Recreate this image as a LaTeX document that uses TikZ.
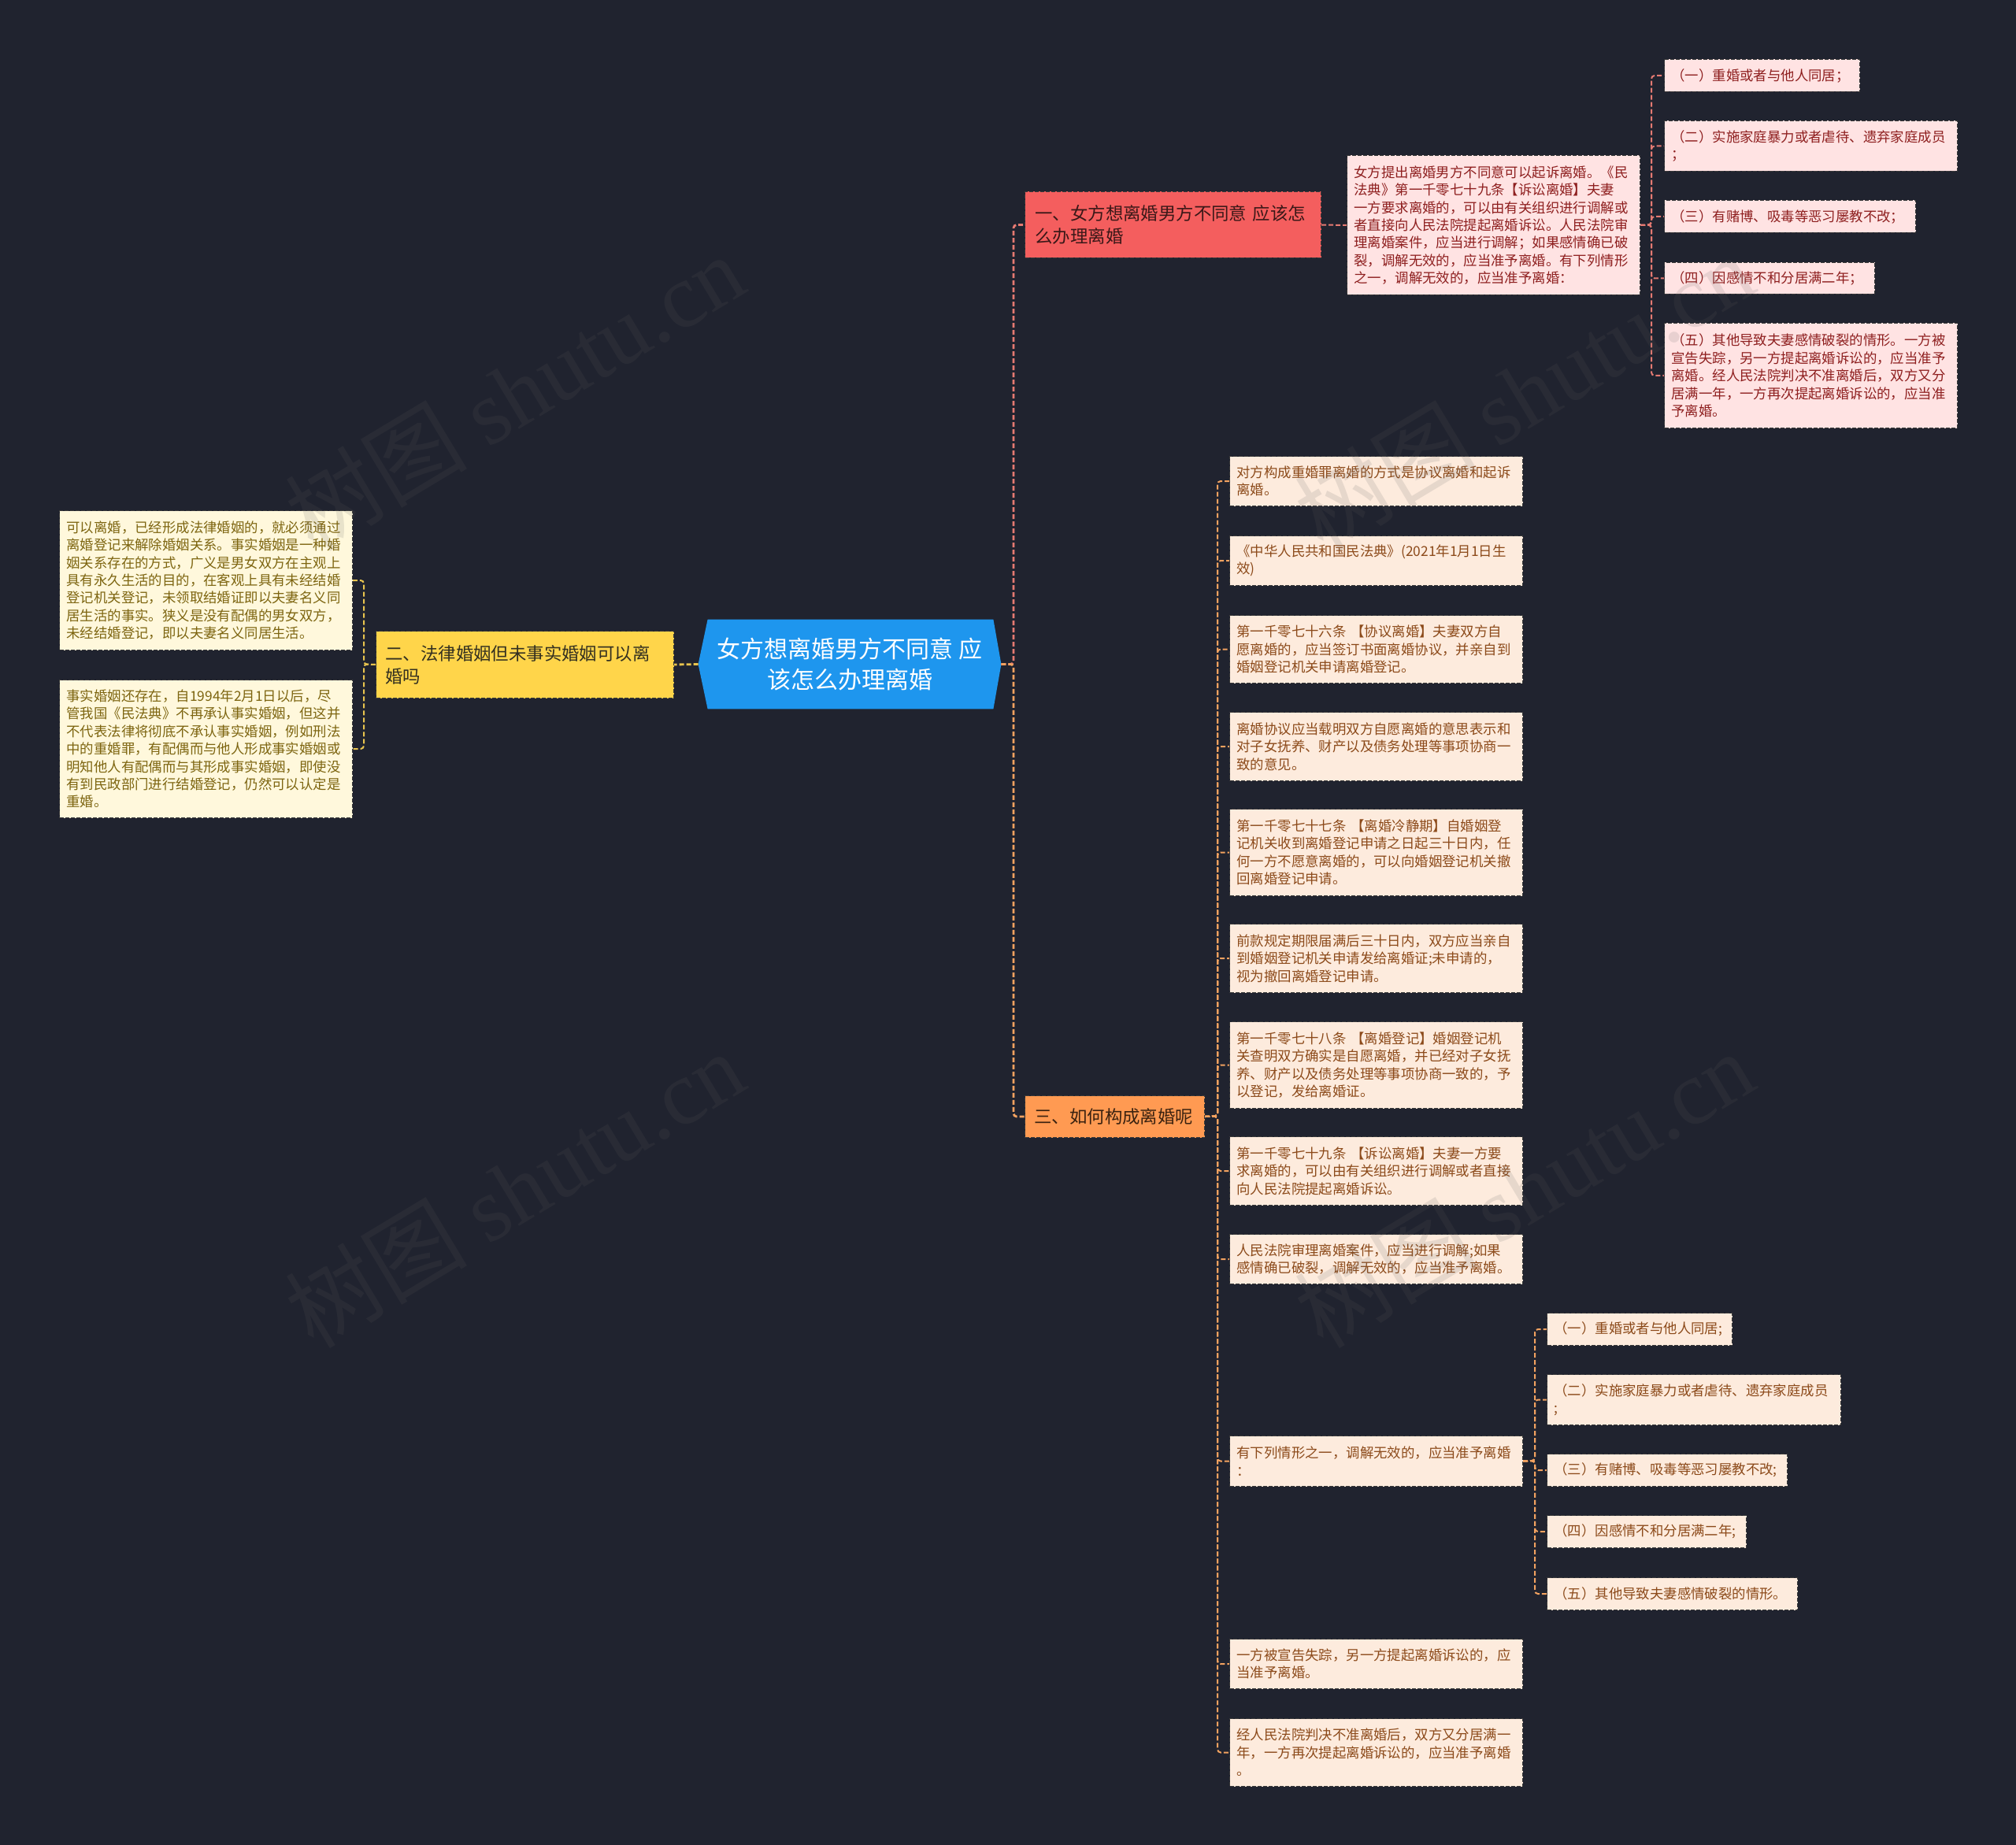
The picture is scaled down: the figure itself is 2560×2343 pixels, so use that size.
\documentclass[tikz,border=0pt]{standalone}
\usepackage{fontspec}
\setmainfont{Noto Sans CJK SC}
\newfontfamily\wmfont{Liberation Serif}
\usetikzlibrary{backgrounds}
\definecolor{bgc}{HTML}{20232F}
\definecolor{rootc}{HTML}{1E96EE}
\definecolor{redf}{HTML}{F45E5E}
\definecolor{redt}{HTML}{3A1818}
\definecolor{pinkf}{HTML}{FFE3E3}
\definecolor{pinkt}{HTML}{8E1F1F}
\definecolor{yelf}{HTML}{FFD54A}
\definecolor{yelt}{HTML}{333020}
\definecolor{creamf}{HTML}{FFF8DC}
\definecolor{creamt}{HTML}{7D6510}
\definecolor{orf}{HTML}{FF9A52}
\definecolor{ort}{HTML}{3A2210}
\definecolor{peachf}{HTML}{FDEBDD}
\definecolor{peacht}{HTML}{8C4A1A}
\definecolor{redl}{HTML}{E57A72}
\definecolor{yell}{HTML}{E8C44E}
\definecolor{orl}{HTML}{F2A260}
\definecolor{bord}{HTML}{3A3A3A}
\definecolor{wmc}{HTML}{606060}
\tikzset{
  box/.style={rectangle, draw=bord, line width=0.5pt, dash pattern=on 2.5pt off 1pt,
    inner xsep=4.5pt, inner ysep=0pt, align=left, anchor=north west},
  leaffont/.style={font=\fontsize{8.7pt}{11.2pt}\selectfont},
  pinkleaf/.style={box, leaffont, fill=pinkf, text=pinkt},
  creamleaf/.style={box, leaffont, fill=creamf, text=creamt},
  peachleaf/.style={box, leaffont, fill=peachf, text=peacht},
  branchbox/.style={box, inner xsep=6.5pt, font=\fontsize{11.2pt}{14.5pt}\selectfont},
  link/.style={line width=1pt, dash pattern=on 3pt off 1.5pt, rounded corners=2pt},
  toplink/.style={link, line width=1.4pt},
  wm/.style={text=wmc, text opacity=0.14, rotate=31, inner sep=0pt,
    font=\fontsize{58pt}{58pt}\selectfont}
}
\begin{document}
\begin{tikzpicture}[x=0.5pt,y=-0.5pt]
\useasboundingbox (0,0) rectangle (2560,2343);

% root
\node[minimum width=192pt, minimum height=56.5pt, inner sep=0pt, align=center, text=white,
  font=\fontsize{15pt}{19.5pt}\selectfont] (root) at (1079,843.5)
  {女方想离婚男方不同意 应\\该怎么办理离婚};

% branches
\node[branchbox, fill=redf, text=redt, text width=175pt, minimum height=42pt] (b1) at (1301,243)
  {一、女方想离婚男方不同意 应该怎\\么办理离婚};
\node[branchbox, fill=yelf, text=yelt, inner xsep=6pt, text width=177pt, minimum height=42.5pt] (b2) at (477,801)
  {二、法律婚姻但未事实婚姻可以离\\婚吗};
\node[branchbox, fill=orf, text=ort, inner xsep=6pt, text width=102pt, minimum height=26.5pt] (b3) at (1301,1391)
  {三、如何构成离婚呢};

% branch 1 content
\node[pinkleaf, text width=177pt, minimum height=88.5pt] (p) at (1710,197)
  {女方提出离婚男方不同意可以起诉离婚。《民\\法典》第一千零七十九条【诉讼离婚】夫妻\\一方要求离婚的，可以由有关组织进行调解或\\者直接向人民法院提起离婚诉讼。人民法院审\\理离婚案件，应当进行调解；如果感情确已破\\裂，调解无效的，应当准予离婚。有下列情形\\之一，调解无效的，应当准予离婚：};
\node[pinkleaf, text width=115pt, minimum height=20.5pt] (g1) at (2113,75) {（一）重婚或者与他人同居；};
\node[pinkleaf, text width=177pt, minimum height=32pt] (g2) at (2113,153) {（二）实施家庭暴力或者虐待、遗弃家庭成员\\；};
\node[pinkleaf, text width=150.5pt, minimum height=20.5pt] (g3) at (2113,254) {（三）有赌博、吸毒等恶习屡教不改；};
\node[pinkleaf, text width=124.5pt, minimum height=20pt] (g4) at (2113,333) {（四）因感情不和分居满二年；};
\node[pinkleaf, text width=177pt, minimum height=66.5pt] (g5) at (2113,410)
  {（五）其他导致夫妻感情破裂的情形。一方被\\宣告失踪，另一方提起离婚诉讼的，应当准予\\离婚。经人民法院判决不准离婚后，双方又分\\居满一年，一方再次提起离婚诉讼的，应当准\\予离婚。};

% branch 2 content
\node[creamleaf, text width=177pt, minimum height=88.5pt] (y1) at (75,648)
  {可以离婚，已经形成法律婚姻的，就必须通过\\离婚登记来解除婚姻关系。事实婚姻是一种婚\\姻关系存在的方式，广义是男女双方在主观上\\具有永久生活的目的，在客观上具有未经结婚\\登记机关登记，未领取结婚证即以夫妻名义同\\居生活的事实。狭义是没有配偶的男女双方，\\未经结婚登记，即以夫妻名义同居生活。};
\node[creamleaf, text width=177pt, minimum height=87.5pt] (y2) at (75,863)
  {事实婚姻还存在，自1994年2月1日以后，尽\\管我国《民法典》不再承认事实婚姻，但这并\\不代表法律将彻底不承认事实婚姻，例如刑法\\中的重婚罪，有配偶而与他人形成事实婚姻或\\明知他人有配偶而与其形成事实婚姻，即使没\\有到民政部门进行结婚登记，仍然可以认定是\\重婚。};

% branch 3 content
\node[peachleaf, text width=177pt, minimum height=31.5pt] (o1) at (1561,579)
  {对方构成重婚罪离婚的方式是协议离婚和起诉\\离婚。};
\node[peachleaf, text width=177pt, minimum height=31.5pt] (o2) at (1561,680)
  {《中华人民共和国民法典》(2021年1月1日生\\效)};
\node[peachleaf, text width=177pt, minimum height=43pt] (o3) at (1561,781)
  {第一千零七十六条 【协议离婚】夫妻双方自\\愿离婚的，应当签订书面离婚协议，并亲自到\\婚姻登记机关申请离婚登记。};
\node[peachleaf, text width=177pt, minimum height=43.5pt] (o4) at (1561,904)
  {离婚协议应当载明双方自愿离婚的意思表示和\\对子女抚养、财产以及债务处理等事项协商一\\致的意见。};
\node[peachleaf, text width=177pt, minimum height=55pt] (o5) at (1561,1027)
  {第一千零七十七条 【离婚冷静期】自婚姻登\\记机关收到离婚登记申请之日起三十日内，任\\何一方不愿意离婚的，可以向婚姻登记机关撤\\回离婚登记申请。};
\node[peachleaf, text width=177pt, minimum height=43.5pt] (o6) at (1561,1173)
  {前款规定期限届满后三十日内，双方应当亲自\\到婚姻登记机关申请发给离婚证;未申请的，\\视为撤回离婚登记申请。};
\node[peachleaf, text width=177pt, minimum height=55pt] (o7) at (1561,1297)
  {第一千零七十八条 【离婚登记】婚姻登记机\\关查明双方确实是自愿离婚，并已经对子女抚\\养、财产以及债务处理等事项协商一致的，予\\以登记，发给离婚证。};
\node[peachleaf, text width=177pt, minimum height=43.5pt] (o8) at (1561,1443)
  {第一千零七十九条 【诉讼离婚】夫妻一方要\\求离婚的，可以由有关组织进行调解或者直接\\向人民法院提起离婚诉讼。};
\node[peachleaf, text width=177pt, minimum height=31.5pt] (o9) at (1561,1567)
  {人民法院审理离婚案件，应当进行调解;如果\\感情确已破裂，调解无效的，应当准予离婚。};
\node[peachleaf, text width=177pt, minimum height=32pt] (o10) at (1561,1823)
  {有下列情形之一，调解无效的，应当准予离婚\\：};
\node[peachleaf, text width=177pt, minimum height=31.5pt] (o11) at (1561,2081)
  {一方被宣告失踪，另一方提起离婚诉讼的，应\\当准予离婚。};
\node[peachleaf, text width=177pt, minimum height=43pt] (o12) at (1561,2182)
  {经人民法院判决不准离婚后，双方又分居满一\\年，一方再次提起离婚诉讼的，应当准予离婚\\。};

\node[peachleaf, text width=108.5pt, minimum height=20.5pt] (h1) at (1964,1667) {（一）重婚或者与他人同居;};
\node[peachleaf, text width=177.5pt, minimum height=32pt] (h2) at (1964,1745) {（二）实施家庭暴力或者虐待、遗弃家庭成员\\;};
\node[peachleaf, text width=143.5pt, minimum height=20.5pt] (h3) at (1964,1846) {（三）有赌博、吸毒等恶习屡教不改;};
\node[peachleaf, text width=117.5pt, minimum height=20.5pt] (h4) at (1964,1924) {（四）因感情不和分居满二年;};
\node[peachleaf, text width=150pt, minimum height=20.5pt] (h5) at (1964,2003) {（五）其他导致夫妻感情破裂的情形。};

% connectors and background
\coordinate (rt) at (1287,843.5);
\coordinate (pt) at (2097,285.5);
\coordinate (yt) at (462,843.5);
\coordinate (ot) at (1546,1417.5);
\coordinate (ht) at (1949,1855);
\begin{scope}[on background layer]
\fill[bgc] (0,0) rectangle (2560,2343);
\fill[rootc] (root.west) -- ([xshift=6pt]root.north west) -- ([xshift=-5pt]root.north east)
  -- (root.east) -- ([xshift=-5pt]root.south east) -- ([xshift=6pt]root.south west) -- cycle;
\draw[toplink, yell] (root.west) -- (b2.east);
\draw[toplink, redl] (root.east) -- (rt) |- (b1.west);
\draw[toplink, orl] (root.east) -- (rt) |- (b3.west);
\draw[link, redl] (b1.east) -- (p.west);
\foreach \g in {g1,g2,g3,g4,g5} \draw[link, redl] (p.east) -- (pt) |- (\g.west);
\foreach \g in {y1,y2} \draw[link, yell] (b2.west) -- (yt) |- (\g.east);
\foreach \g in {o1,o2,o3,o4,o5,o6,o7,o8,o9,o10,o11,o12} \draw[link, orl] (b3.east) -- (ot) |- (\g.west);
\foreach \g in {h1,h2,h3,h4,h5} \draw[link, orl] (o10.east) -- (ht) |- (\g.west);
\end{scope}

% watermarks
\node[wm] (wm1) at (653,498) {树图 {\wmfont shutu.cn}};
\node[wm] (wm2) at (653,1510) {树图 {\wmfont shutu.cn}};
\node[wm] (wm3) at (1935,498) {树图 {\wmfont shutu.cn}};
\node[wm] (wm4) at (1935,1510) {树图 {\wmfont shutu.cn}};
\end{tikzpicture}
\end{document}
